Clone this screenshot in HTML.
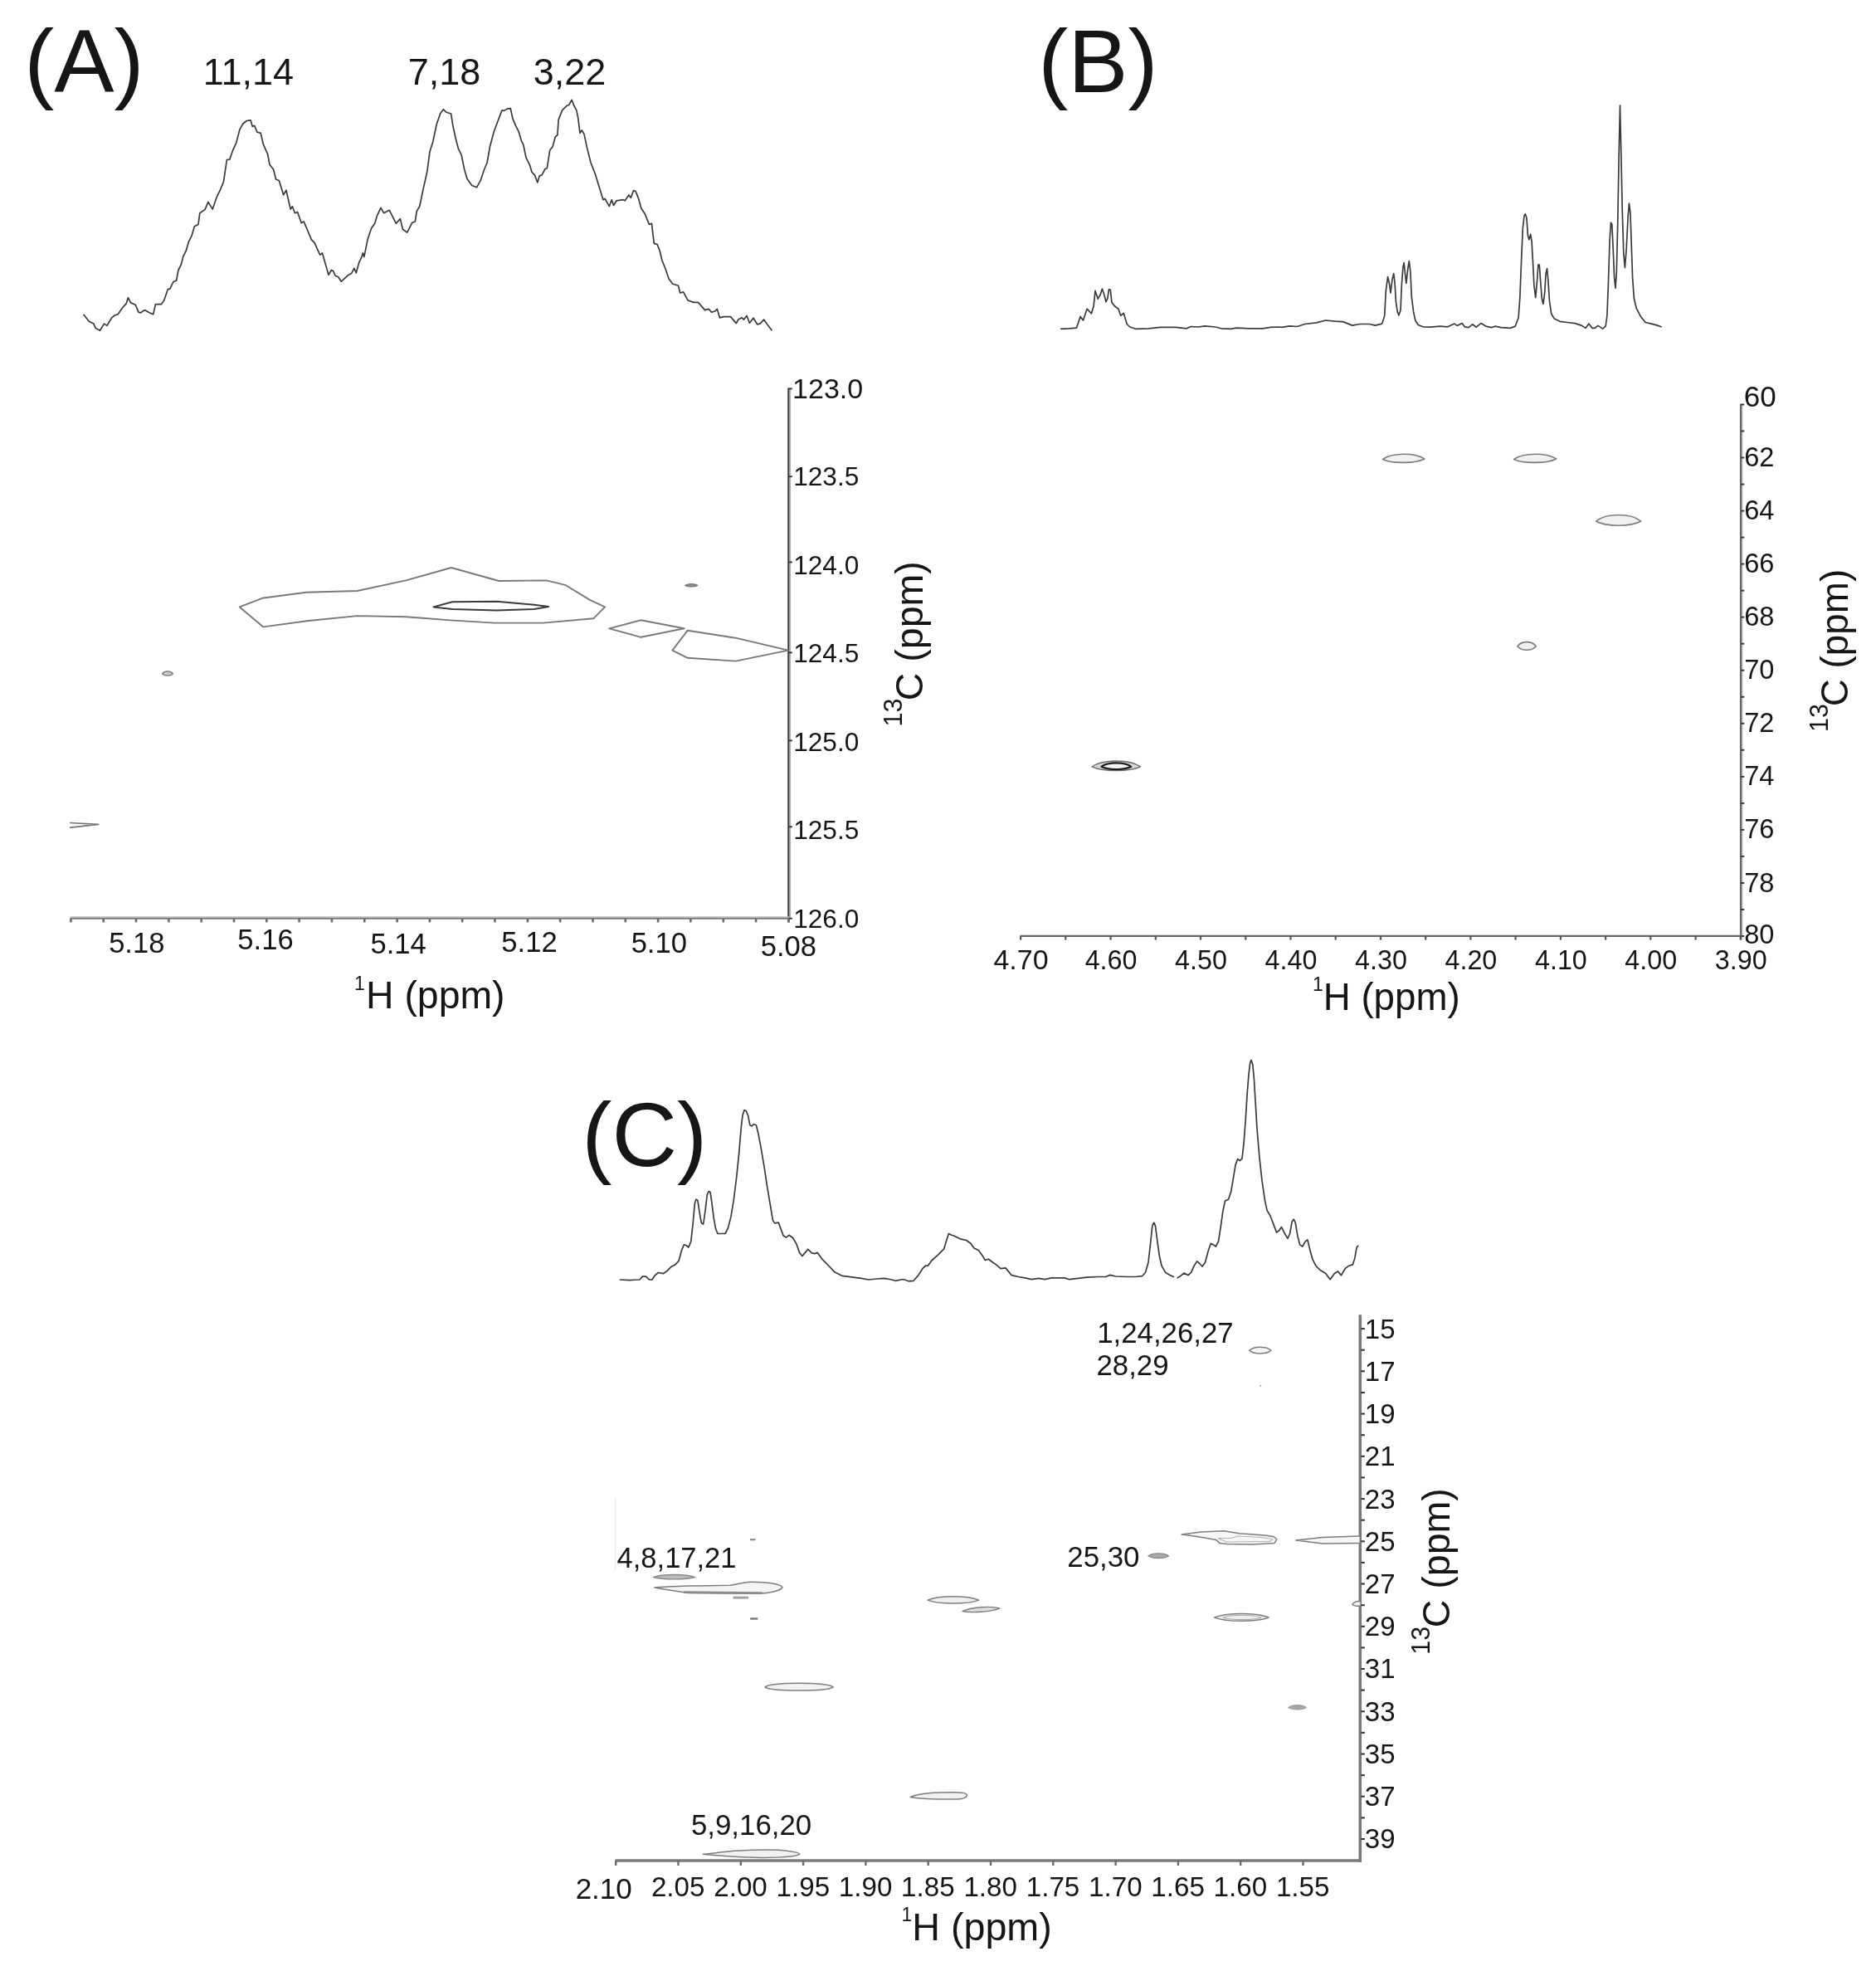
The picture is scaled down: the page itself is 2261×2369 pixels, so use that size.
<!DOCTYPE html>
<html><head><meta charset="utf-8"><title>HSQC NMR spectra</title>
<style>
html,body{margin:0;padding:0;background:#fff;}
body{width:2261px;height:2369px;overflow:hidden;}
svg{display:block;font-family:"Liberation Sans", Arial, sans-serif;filter:blur(0.55px);}
</style></head><body>
<svg width="2261" height="2369" viewBox="0 0 2261 2369">
<rect width="2261" height="2369" fill="#fff"/>
<text x="29.2" y="111.0" font-size="108.3" text-anchor="start" fill="#161616" stroke="#161616" stroke-width="0.00" >(A)</text>
<text x="1251.2" y="111.2" font-size="108.3" text-anchor="start" fill="#161616" stroke="#161616" stroke-width="0.00" >(B)</text>
<text x="701.3" y="1404.8" font-size="108.8" text-anchor="start" fill="#161616" stroke="#161616" stroke-width="0.00" >(C)</text>
<text x="299.5" y="102.0" font-size="45" text-anchor="middle" fill="#161616" stroke="#161616" stroke-width="0.00" >11,14</text>
<text x="535.5" y="102.0" font-size="45" text-anchor="middle" fill="#161616" stroke="#161616" stroke-width="0.00" >7,18</text>
<text x="686.5" y="102.0" font-size="45" text-anchor="middle" fill="#161616" stroke="#161616" stroke-width="0.00" >3,22</text>
<path d="M101.0 379.3 L107.2 387.3 L112.9 390.1 L115.2 395.4 L120.5 398.3 L125.5 390.1 L129.0 392.4 L134.7 382.8 L138.1 380.0 L142.3 378.6 L147.3 371.3 L152.3 365.6 L154.4 358.7 L157.6 364.9 L163.3 367.2 L166.8 375.9 L169.1 377.0 L174.3 373.6 L180.5 377.0 L184.7 378.6 L187.4 366.7 L194.3 366.7 L197.7 362.1 L202.3 348.4 L204.6 348.4 L209.2 339.2 L212.6 338.1 L214.9 325.5 L218.4 318.6 L220.7 309.4 L224.1 302.5 L227.5 291.1 L231.0 284.2 L234.4 272.7 L239.0 270.4 L240.8 256.7 L247.0 252.6 L250.9 243.4 L256.2 252.1 L260.8 238.4 L265.3 229.2 L269.5 218.9 L273.4 192.5 L276.8 192.1 L280.2 182.2 L284.8 171.9 L289.0 155.8 L292.9 149.0 L297.4 145.5 L302.0 144.8 L304.3 152.4 L306.6 151.3 L310.0 159.3 L314.2 160.4 L317.4 174.2 L322.6 185.6 L324.9 198.2 L329.5 204.0 L332.5 215.9 L336.4 217.7 L341.7 234.9 L344.9 229.2 L350.2 252.1 L352.4 248.7 L355.4 256.7 L358.6 255.5 L363.2 268.6 L366.2 267.0 L375.4 288.8 L378.8 292.2 L385.7 307.1 L388.4 304.8 L396.0 331.2 L399.4 325.5 L401.7 326.6 L404.0 332.3 L407.5 333.5 L411.4 339.2 L420.1 331.2 L423.5 329.6 L426.9 323.2 L429.2 328.9 L432.7 316.3 L436.1 309.4 L437.3 304.8 L438.9 309.4 L443.0 288.8 L447.6 275.0 L451.7 269.3 L454.4 260.1 L459.0 250.3 L462.5 256.7 L469.3 253.3 L477.4 269.3 L482.4 263.6 L485.4 276.2 L490.7 280.1 L496.8 268.2 L500.3 267.0 L502.3 254.4 L505.7 248.7 L510.3 226.9 L514.9 206.3 L517.9 183.3 L521.8 170.7 L526.4 149.0 L530.9 136.4 L534.4 131.8 L537.8 135.2 L543.6 137.0 L545.8 151.3 L549.3 167.3 L552.3 178.8 L556.2 186.8 L559.6 204.0 L563.0 215.4 L568.8 223.5 L574.5 225.8 L579.1 217.7 L583.7 204.0 L587.1 196.0 L590.5 176.5 L595.1 159.3 L599.7 146.7 L605.0 132.9 L607.7 133.4 L611.2 131.1 L615.3 130.6 L618.0 143.2 L621.5 151.3 L624.9 158.1 L628.4 169.6 L630.7 174.2 L634.1 190.2 L638.7 199.4 L641.0 207.4 L644.4 210.9 L647.8 220.0 L650.1 212.0 L653.1 210.9 L657.0 203.5 L659.3 202.8 L662.7 181.1 L666.2 176.5 L669.2 165.0 L671.9 162.7 L673.1 144.4 L677.6 132.9 L683.4 127.2 L685.7 126.5 L689.1 120.3 L691.4 126.5 L694.8 132.9 L696.7 142.1 L699.0 160.4 L701.2 157.0 L704.0 161.6 L707.4 177.6 L712.0 196.0 L717.8 210.9 L722.3 225.8 L726.9 240.7 L729.2 239.5 L734.3 248.7 L737.2 240.7 L739.5 247.5 L743.0 241.8 L751.0 240.7 L753.3 241.8 L757.9 234.9 L760.2 238.4 L763.6 229.6 L765.9 230.3 L769.3 238.4 L772.8 251.0 L777.3 257.8 L782.4 270.4 L785.4 269.3 L788.3 293.4 L792.2 294.5 L795.2 302.5 L798.0 314.0 L802.6 325.5 L806.0 335.8 L810.6 342.0 L817.5 344.3 L819.7 353.0 L823.6 351.8 L828.9 361.7 L835.8 364.4 L841.5 364.4 L849.5 373.6 L854.1 372.4 L857.6 376.3 L862.2 374.7 L864.4 372.4 L867.4 382.8 L872.5 381.6 L880.5 381.6 L887.4 389.6 L889.7 385.1 L894.2 382.8 L896.5 385.1 L900.0 380.5 L903.4 389.2 L908.0 383.2 L912.6 390.8 L916.0 390.1 L920.6 385.1 L925.2 391.5 L930.0 397.7" fill="none" stroke="#3a3a3a" stroke-width="1.7" stroke-linejoin="round" stroke-linecap="round"/>
<path d="M1278.7 396.3 L1288.3 395.8 L1297.5 395.1 L1302.1 381.4 L1305.5 386.0 L1310.1 372.2 L1315.4 377.9 L1318.1 368.8 L1320.0 350.4 L1323.2 360.1 L1326.2 355.0 L1328.4 348.1 L1330.7 355.0 L1333.0 363.7 L1334.9 359.6 L1336.5 348.6 L1338.3 349.3 L1339.9 364.2 L1343.3 368.8 L1347.9 372.2 L1350.7 380.2 L1354.3 377.5 L1358.2 390.5 L1361.7 394.0 L1368.6 396.3 L1384.6 395.8 L1398.4 394.4 L1416.7 394.4 L1430.4 395.8 L1435.0 393.5 L1444.2 394.0 L1452.2 392.8 L1464.8 394.0 L1471.7 395.8 L1483.2 396.3 L1490.0 395.1 L1506.1 395.8 L1522.1 395.8 L1531.3 394.4 L1540.5 394.0 L1545.1 394.4 L1554.2 392.8 L1563.4 393.5 L1572.6 390.5 L1586.3 388.9 L1597.8 386.0 L1609.2 387.1 L1618.4 387.6 L1629.9 392.1 L1639.0 390.5 L1650.5 390.5 L1657.4 392.1 L1665.7 390.1 L1668.7 380.5 L1670.3 350.7 L1672.6 333.5 L1674.4 341.5 L1676.0 353.0 L1677.9 336.9 L1679.7 329.6 L1681.1 341.5 L1682.5 364.4 L1684.3 375.9 L1685.9 380.0 L1688.0 373.6 L1689.3 343.8 L1690.9 322.0 L1692.1 316.7 L1693.5 330.0 L1694.8 341.5 L1696.7 324.3 L1698.3 314.5 L1699.9 327.8 L1701.3 357.5 L1703.6 375.9 L1705.8 386.2 L1709.3 391.5 L1715.0 393.8 L1724.2 394.2 L1735.6 393.1 L1744.8 393.8 L1752.8 390.1 L1756.3 392.4 L1762.0 389.6 L1765.4 393.8 L1770.0 394.7 L1774.6 390.8 L1779.2 394.2 L1784.9 389.6 L1790.7 393.1 L1797.5 394.7 L1802.1 393.1 L1809.0 394.7 L1820.4 395.4 L1826.2 393.1 L1830.1 382.8 L1831.9 357.5 L1833.5 316.3 L1835.3 275.0 L1837.0 260.1 L1838.3 257.8 L1839.9 262.4 L1841.5 284.2 L1842.9 288.8 L1844.7 282.4 L1846.1 291.1 L1847.5 316.3 L1848.9 343.8 L1850.7 358.7 L1852.5 339.2 L1853.9 319.0 L1855.3 319.0 L1856.7 339.2 L1858.3 359.8 L1859.9 366.3 L1861.7 353.0 L1863.1 330.0 L1864.5 323.6 L1865.8 336.9 L1867.4 362.1 L1869.7 378.2 L1873.2 383.9 L1880.0 387.3 L1889.2 388.5 L1898.4 389.6 L1906.4 392.4 L1911.0 395.4 L1914.9 390.1 L1919.0 395.4 L1922.4 395.4 L1925.9 392.4 L1931.6 396.1 L1935.1 393.1 L1936.9 380.5 L1938.5 339.2 L1940.1 288.8 L1941.5 268.2 L1942.8 270.4 L1944.2 300.2 L1945.6 334.6 L1947.0 347.2 L1948.3 327.8 L1949.7 270.4 L1951.1 190.2 L1952.5 127.2 L1953.8 185.6 L1955.2 252.1 L1956.8 304.8 L1958.4 322.7 L1960.3 298.0 L1962.1 261.3 L1963.5 245.2 L1964.9 256.7 L1966.2 293.4 L1967.6 334.6 L1969.4 359.8 L1972.2 371.3 L1977.5 381.6 L1983.2 388.5 L1990.1 390.1 L1996.9 391.9 L2002.0 393.8" fill="none" stroke="#3a3a3a" stroke-width="1.7" stroke-linejoin="round" stroke-linecap="round"/>
<path d="M747.3 1542.0 L758.3 1542.6 L770.9 1542.0 L774.4 1538.1 L778.5 1538.1 L782.4 1542.0 L785.8 1542.0 L789.3 1536.9 L793.2 1533.5 L799.6 1534.6 L804.2 1531.2 L808.8 1526.6 L813.3 1524.3 L817.9 1519.7 L821.4 1507.1 L824.3 1499.8 L827.1 1500.7 L829.9 1503.0 L832.8 1495.7 L835.1 1475.0 L837.4 1449.8 L839.0 1445.2 L840.9 1446.4 L843.1 1461.3 L845.4 1473.9 L847.7 1475.0 L850.0 1459.0 L852.3 1439.5 L854.1 1435.6 L856.0 1436.5 L858.0 1449.8 L860.3 1468.2 L862.6 1480.8 L864.9 1486.5 L869.5 1486.5 L874.1 1486.5 L877.5 1479.6 L881.0 1465.9 L884.4 1445.2 L887.8 1417.7 L890.8 1387.9 L893.1 1360.4 L894.9 1344.4 L897.0 1337.5 L899.3 1338.7 L901.6 1344.4 L903.9 1355.8 L906.2 1357.0 L908.5 1354.7 L911.4 1355.8 L914.2 1367.3 L917.6 1385.6 L921.1 1406.3 L924.5 1429.2 L928.0 1449.8 L931.4 1470.4 L933.7 1473.9 L938.3 1473.2 L940.6 1479.6 L944.0 1488.8 L947.4 1491.1 L950.9 1488.3 L955.5 1491.5 L960.0 1499.1 L963.5 1509.4 L966.9 1513.5 L970.4 1509.4 L973.8 1505.3 L978.4 1509.9 L981.8 1510.6 L985.3 1509.4 L991.0 1517.4 L999.0 1525.5 L1005.9 1532.8 L1015.1 1537.4 L1026.5 1538.8 L1038.0 1540.4 L1047.1 1542.0 L1056.3 1541.0 L1065.5 1540.4 L1072.4 1541.5 L1079.2 1543.3 L1088.4 1541.5 L1095.3 1543.8 L1101.0 1543.3 L1106.7 1536.9 L1112.5 1527.8 L1115.9 1525.0 L1118.2 1525.5 L1122.8 1519.0 L1129.7 1512.9 L1137.7 1504.8 L1141.1 1493.4 L1143.4 1486.5 L1146.8 1488.3 L1150.0 1489.2 L1158.0 1493.2 L1164.7 1494.5 L1170.0 1498.5 L1174.0 1503.9 L1179.3 1506.5 L1183.3 1511.9 L1187.3 1518.5 L1191.3 1517.2 L1196.6 1521.2 L1200.6 1523.9 L1206.0 1528.7 L1211.8 1527.9 L1215.3 1531.9 L1219.3 1536.7 L1227.3 1538.5 L1235.3 1539.9 L1243.3 1541.7 L1251.3 1540.4 L1259.3 1541.7 L1267.3 1539.9 L1277.9 1539.9 L1283.3 1539.9 L1288.6 1541.7 L1299.3 1540.4 L1309.9 1539.1 L1323.2 1538.5 L1332.6 1538.5 L1337.9 1536.4 L1344.6 1538.0 L1357.9 1538.5 L1368.6 1538.5 L1376.5 1537.7 L1380.5 1533.2 L1384.0 1521.2 L1386.7 1497.2 L1388.8 1477.2 L1390.7 1473.2 L1392.5 1477.2 L1394.7 1494.5 L1397.3 1513.2 L1400.0 1525.2 L1404.5 1533.2 L1409.9 1536.4 L1414.4 1538.5" fill="none" stroke="#3a3a3a" stroke-width="1.7" stroke-linejoin="round" stroke-linecap="round"/>
<path d="M1419.2 1539.9 L1423.2 1537.2 L1427.2 1534.0 L1432.0 1536.7 L1435.7 1533.2 L1439.2 1525.2 L1442.6 1519.9 L1445.8 1522.5 L1449.0 1526.0 L1452.5 1521.2 L1456.0 1507.9 L1459.2 1498.5 L1462.4 1499.9 L1465.3 1502.0 L1468.5 1495.9 L1471.2 1478.6 L1473.8 1459.9 L1476.5 1447.1 L1480.5 1445.2 L1483.7 1435.9 L1486.4 1419.9 L1489.0 1403.9 L1491.7 1396.5 L1494.3 1398.6 L1497.0 1395.9 L1499.1 1377.3 L1501.3 1348.0 L1503.1 1318.6 L1505.0 1294.6 L1506.6 1281.3 L1507.9 1277.3 L1509.8 1282.7 L1511.4 1300.0 L1513.0 1326.6 L1515.1 1361.3 L1517.8 1393.3 L1521.0 1422.6 L1524.5 1446.6 L1527.1 1458.6 L1531.1 1465.2 L1535.1 1475.9 L1538.6 1485.2 L1541.8 1482.5 L1544.5 1478.6 L1547.7 1485.2 L1551.9 1492.4 L1554.6 1486.5 L1557.2 1471.9 L1559.1 1469.2 L1561.2 1473.2 L1563.9 1489.2 L1566.6 1499.9 L1569.8 1502.0 L1573.2 1495.9 L1575.9 1494.0 L1578.6 1505.2 L1581.8 1517.2 L1585.8 1525.2 L1591.1 1530.5 L1597.8 1534.5 L1603.1 1541.7 L1608.4 1534.5 L1612.4 1531.9 L1616.4 1536.7 L1621.2 1528.7 L1625.7 1525.2 L1630.3 1523.9 L1632.9 1515.9 L1635.1 1503.1 L1636.7 1501.2" fill="none" stroke="#3a3a3a" stroke-width="1.7" stroke-linejoin="round" stroke-linecap="round"/>
<line x1="950.4" y1="467.4" x2="950.4" y2="1111.5" stroke="#3a3a3a" stroke-width="2.3"/>
<line x1="952.3" y1="467.4" x2="952.3" y2="1108.0" stroke="#b0b0b0" stroke-width="1.6"/>
<line x1="84.5" y1="1105.0" x2="951.5" y2="1105.0" stroke="#bcbcbc" stroke-width="1.6"/>
<line x1="84.5" y1="1106.8" x2="951.5" y2="1106.8" stroke="#7a7a7a" stroke-width="2.0"/>
<line x1="951.0" y1="468.4" x2="954.8" y2="468.4" stroke="#333" stroke-width="1.9"/>
<text x="955.1" y="480.3" font-size="34" text-anchor="start" fill="#161616" stroke="#161616" stroke-width="0.00" >123.0</text>
<line x1="951.0" y1="574.2" x2="954.8" y2="574.2" stroke="#333" stroke-width="1.9"/>
<text x="956.2" y="585.1" font-size="31.6" text-anchor="start" fill="#161616" stroke="#161616" stroke-width="0.00" >123.5</text>
<line x1="951.0" y1="677.4" x2="954.8" y2="677.4" stroke="#333" stroke-width="1.9"/>
<text x="956.2" y="691.6" font-size="31.6" text-anchor="start" fill="#161616" stroke="#161616" stroke-width="0.00" >124.0</text>
<line x1="951.0" y1="786.4" x2="954.8" y2="786.4" stroke="#333" stroke-width="1.9"/>
<text x="956.2" y="798.1" font-size="31.6" text-anchor="start" fill="#161616" stroke="#161616" stroke-width="0.00" >124.5</text>
<line x1="951.0" y1="892.4" x2="954.8" y2="892.4" stroke="#333" stroke-width="1.9"/>
<text x="956.2" y="904.6" font-size="31.6" text-anchor="start" fill="#161616" stroke="#161616" stroke-width="0.00" >125.0</text>
<line x1="951.0" y1="996.3" x2="954.8" y2="996.3" stroke="#333" stroke-width="1.9"/>
<text x="956.2" y="1011.1" font-size="31.6" text-anchor="start" fill="#161616" stroke="#161616" stroke-width="0.00" >125.5</text>
<line x1="951.0" y1="1106.7" x2="954.8" y2="1106.7" stroke="#333" stroke-width="1.9"/>
<text x="956.2" y="1117.6" font-size="31.6" text-anchor="start" fill="#161616" stroke="#161616" stroke-width="0.00" >126.0</text>
<line x1="85.4" y1="1107.0" x2="85.4" y2="1111.4" stroke="#6a6a6a" stroke-width="2.6"/>
<line x1="124.7" y1="1107.0" x2="124.7" y2="1111.4" stroke="#6a6a6a" stroke-width="2.6"/>
<line x1="164.0" y1="1107.0" x2="164.0" y2="1111.4" stroke="#6a6a6a" stroke-width="2.6"/>
<line x1="203.4" y1="1107.0" x2="203.4" y2="1111.4" stroke="#6a6a6a" stroke-width="2.6"/>
<line x1="242.7" y1="1107.0" x2="242.7" y2="1111.4" stroke="#6a6a6a" stroke-width="2.6"/>
<line x1="282.0" y1="1107.0" x2="282.0" y2="1111.4" stroke="#6a6a6a" stroke-width="2.6"/>
<line x1="321.3" y1="1107.0" x2="321.3" y2="1111.4" stroke="#6a6a6a" stroke-width="2.6"/>
<line x1="360.6" y1="1107.0" x2="360.6" y2="1111.4" stroke="#6a6a6a" stroke-width="2.6"/>
<line x1="399.9" y1="1107.0" x2="399.9" y2="1111.4" stroke="#6a6a6a" stroke-width="2.6"/>
<line x1="439.3" y1="1107.0" x2="439.3" y2="1111.4" stroke="#6a6a6a" stroke-width="2.6"/>
<line x1="478.6" y1="1107.0" x2="478.6" y2="1111.4" stroke="#6a6a6a" stroke-width="2.6"/>
<line x1="517.9" y1="1107.0" x2="517.9" y2="1111.4" stroke="#6a6a6a" stroke-width="2.6"/>
<line x1="557.2" y1="1107.0" x2="557.2" y2="1111.4" stroke="#6a6a6a" stroke-width="2.6"/>
<line x1="596.5" y1="1107.0" x2="596.5" y2="1111.4" stroke="#6a6a6a" stroke-width="2.6"/>
<line x1="635.9" y1="1107.0" x2="635.9" y2="1111.4" stroke="#6a6a6a" stroke-width="2.6"/>
<line x1="675.2" y1="1107.0" x2="675.2" y2="1111.4" stroke="#6a6a6a" stroke-width="2.6"/>
<line x1="714.5" y1="1107.0" x2="714.5" y2="1111.4" stroke="#6a6a6a" stroke-width="2.6"/>
<line x1="753.8" y1="1107.0" x2="753.8" y2="1111.4" stroke="#6a6a6a" stroke-width="2.6"/>
<line x1="793.1" y1="1107.0" x2="793.1" y2="1111.4" stroke="#6a6a6a" stroke-width="2.6"/>
<line x1="832.4" y1="1107.0" x2="832.4" y2="1111.4" stroke="#6a6a6a" stroke-width="2.6"/>
<line x1="871.8" y1="1107.0" x2="871.8" y2="1111.4" stroke="#6a6a6a" stroke-width="2.6"/>
<line x1="911.1" y1="1107.0" x2="911.1" y2="1111.4" stroke="#6a6a6a" stroke-width="2.6"/>
<line x1="950.4" y1="1107.0" x2="950.4" y2="1111.4" stroke="#6a6a6a" stroke-width="2.6"/>
<text x="164.8" y="1147.7" font-size="34.6" text-anchor="middle" fill="#161616" stroke="#161616" stroke-width="0.00" >5.18</text>
<text x="320.0" y="1143.6" font-size="34.6" text-anchor="middle" fill="#161616" stroke="#161616" stroke-width="0.00" >5.16</text>
<text x="480.2" y="1149.3" font-size="34.6" text-anchor="middle" fill="#161616" stroke="#161616" stroke-width="0.00" >5.14</text>
<text x="638.0" y="1147.0" font-size="34.6" text-anchor="middle" fill="#161616" stroke="#161616" stroke-width="0.00" >5.12</text>
<text x="794.3" y="1147.7" font-size="34.6" text-anchor="middle" fill="#161616" stroke="#161616" stroke-width="0.00" >5.10</text>
<text x="950.4" y="1151.8" font-size="34.6" text-anchor="middle" fill="#161616" stroke="#161616" stroke-width="0.00" >5.08</text>
<text x="441.0" y="1215.3" font-size="46.4" text-anchor="start" fill="#161616" stroke="#161616" stroke-width="0.00" >H (ppm)</text>
<text x="427.1" y="1192.5" font-size="23" text-anchor="start" fill="#161616" stroke="#161616" stroke-width="0.00" >1</text>
<g transform="translate(1111.5,844.2) rotate(-90)">
<text x="0.0" y="0.0" font-size="46.5" text-anchor="start" fill="#161616" stroke="#161616" stroke-width="0.00" >C (ppm)</text>
</g>
<g transform="translate(1087.4,875.5) rotate(-90)">
<text x="0.0" y="0.0" font-size="30.5" text-anchor="start" fill="#161616" stroke="#161616" stroke-width="0.00" >13</text>
</g>
<line x1="2098.1" y1="486.5" x2="2098.1" y2="1132.5" stroke="#646464" stroke-width="2.4"/>
<line x1="2099.8" y1="486.5" x2="2099.8" y2="1128.0" stroke="#b4b4b4" stroke-width="1.2"/>
<line x1="1229.5" y1="1127.9" x2="2099.0" y2="1127.9" stroke="#666" stroke-width="2.1"/>
<line x1="2098.5" y1="487.5" x2="2102.2" y2="487.5" stroke="#333" stroke-width="1.9"/>
<text x="2101.8" y="489.6" font-size="35" text-anchor="start" fill="#161616" stroke="#161616" stroke-width="0.00" >60</text>
<line x1="2098.5" y1="519.5" x2="2102.2" y2="519.5" stroke="#333" stroke-width="1.9"/>
<line x1="2098.5" y1="551.5" x2="2102.2" y2="551.5" stroke="#333" stroke-width="1.9"/>
<text x="2102.2" y="562.0" font-size="32.6" text-anchor="start" fill="#161616" stroke="#161616" stroke-width="0.00" >62</text>
<line x1="2098.5" y1="583.6" x2="2102.2" y2="583.6" stroke="#333" stroke-width="1.9"/>
<line x1="2098.5" y1="615.6" x2="2102.2" y2="615.6" stroke="#333" stroke-width="1.9"/>
<text x="2102.2" y="626.1" font-size="32.6" text-anchor="start" fill="#161616" stroke="#161616" stroke-width="0.00" >64</text>
<line x1="2098.5" y1="647.6" x2="2102.2" y2="647.6" stroke="#333" stroke-width="1.9"/>
<line x1="2098.5" y1="679.6" x2="2102.2" y2="679.6" stroke="#333" stroke-width="1.9"/>
<text x="2102.2" y="690.1" font-size="32.6" text-anchor="start" fill="#161616" stroke="#161616" stroke-width="0.00" >66</text>
<line x1="2098.5" y1="711.7" x2="2102.2" y2="711.7" stroke="#333" stroke-width="1.9"/>
<line x1="2098.5" y1="743.7" x2="2102.2" y2="743.7" stroke="#333" stroke-width="1.9"/>
<text x="2102.2" y="754.2" font-size="32.6" text-anchor="start" fill="#161616" stroke="#161616" stroke-width="0.00" >68</text>
<line x1="2098.5" y1="775.7" x2="2102.2" y2="775.7" stroke="#333" stroke-width="1.9"/>
<line x1="2098.5" y1="807.8" x2="2102.2" y2="807.8" stroke="#333" stroke-width="1.9"/>
<text x="2102.2" y="818.2" font-size="32.6" text-anchor="start" fill="#161616" stroke="#161616" stroke-width="0.00" >70</text>
<line x1="2098.5" y1="839.8" x2="2102.2" y2="839.8" stroke="#333" stroke-width="1.9"/>
<line x1="2098.5" y1="871.8" x2="2102.2" y2="871.8" stroke="#333" stroke-width="1.9"/>
<text x="2102.2" y="882.3" font-size="32.6" text-anchor="start" fill="#161616" stroke="#161616" stroke-width="0.00" >72</text>
<line x1="2098.5" y1="903.8" x2="2102.2" y2="903.8" stroke="#333" stroke-width="1.9"/>
<line x1="2098.5" y1="935.9" x2="2102.2" y2="935.9" stroke="#333" stroke-width="1.9"/>
<text x="2102.2" y="946.4" font-size="32.6" text-anchor="start" fill="#161616" stroke="#161616" stroke-width="0.00" >74</text>
<line x1="2098.5" y1="967.9" x2="2102.2" y2="967.9" stroke="#333" stroke-width="1.9"/>
<line x1="2098.5" y1="999.9" x2="2102.2" y2="999.9" stroke="#333" stroke-width="1.9"/>
<text x="2102.2" y="1010.4" font-size="32.6" text-anchor="start" fill="#161616" stroke="#161616" stroke-width="0.00" >76</text>
<line x1="2098.5" y1="1031.9" x2="2102.2" y2="1031.9" stroke="#333" stroke-width="1.9"/>
<line x1="2098.5" y1="1064.0" x2="2102.2" y2="1064.0" stroke="#333" stroke-width="1.9"/>
<text x="2102.2" y="1074.5" font-size="32.6" text-anchor="start" fill="#161616" stroke="#161616" stroke-width="0.00" >78</text>
<line x1="2098.5" y1="1096.0" x2="2102.2" y2="1096.0" stroke="#333" stroke-width="1.9"/>
<line x1="2098.5" y1="1128.0" x2="2102.2" y2="1128.0" stroke="#333" stroke-width="1.9"/>
<text x="2102.2" y="1137.3" font-size="32.6" text-anchor="start" fill="#161616" stroke="#161616" stroke-width="0.00" >80</text>
<line x1="1230.1" y1="1128.0" x2="1230.1" y2="1132.6" stroke="#555" stroke-width="2.2"/>
<text x="1230.5" y="1167.6" font-size="34" text-anchor="middle" fill="#161616" stroke="#161616" stroke-width="0.00" >4.70</text>
<line x1="1284.3" y1="1128.0" x2="1284.3" y2="1132.6" stroke="#555" stroke-width="2.2"/>
<line x1="1338.6" y1="1128.0" x2="1338.6" y2="1132.6" stroke="#555" stroke-width="2.2"/>
<text x="1339.1" y="1167.8" font-size="32.3" text-anchor="middle" fill="#161616" stroke="#161616" stroke-width="0.00" >4.60</text>
<line x1="1392.8" y1="1128.0" x2="1392.8" y2="1132.6" stroke="#555" stroke-width="2.2"/>
<line x1="1447.0" y1="1128.0" x2="1447.0" y2="1132.6" stroke="#555" stroke-width="2.2"/>
<text x="1447.5" y="1167.8" font-size="32.3" text-anchor="middle" fill="#161616" stroke="#161616" stroke-width="0.00" >4.50</text>
<line x1="1501.3" y1="1128.0" x2="1501.3" y2="1132.6" stroke="#555" stroke-width="2.2"/>
<line x1="1555.5" y1="1128.0" x2="1555.5" y2="1132.6" stroke="#555" stroke-width="2.2"/>
<text x="1556.0" y="1167.8" font-size="32.3" text-anchor="middle" fill="#161616" stroke="#161616" stroke-width="0.00" >4.40</text>
<line x1="1609.7" y1="1128.0" x2="1609.7" y2="1132.6" stroke="#555" stroke-width="2.2"/>
<line x1="1664.0" y1="1128.0" x2="1664.0" y2="1132.6" stroke="#555" stroke-width="2.2"/>
<text x="1664.5" y="1167.8" font-size="32.3" text-anchor="middle" fill="#161616" stroke="#161616" stroke-width="0.00" >4.30</text>
<line x1="1718.2" y1="1128.0" x2="1718.2" y2="1132.6" stroke="#555" stroke-width="2.2"/>
<line x1="1772.4" y1="1128.0" x2="1772.4" y2="1132.6" stroke="#555" stroke-width="2.2"/>
<text x="1772.9" y="1167.8" font-size="32.3" text-anchor="middle" fill="#161616" stroke="#161616" stroke-width="0.00" >4.20</text>
<line x1="1826.6" y1="1128.0" x2="1826.6" y2="1132.6" stroke="#555" stroke-width="2.2"/>
<line x1="1880.9" y1="1128.0" x2="1880.9" y2="1132.6" stroke="#555" stroke-width="2.2"/>
<text x="1881.4" y="1167.8" font-size="32.3" text-anchor="middle" fill="#161616" stroke="#161616" stroke-width="0.00" >4.10</text>
<line x1="1935.1" y1="1128.0" x2="1935.1" y2="1132.6" stroke="#555" stroke-width="2.2"/>
<line x1="1989.3" y1="1128.0" x2="1989.3" y2="1132.6" stroke="#555" stroke-width="2.2"/>
<text x="1989.8" y="1167.8" font-size="32.3" text-anchor="middle" fill="#161616" stroke="#161616" stroke-width="0.00" >4.00</text>
<line x1="2043.6" y1="1128.0" x2="2043.6" y2="1132.6" stroke="#555" stroke-width="2.2"/>
<line x1="2097.8" y1="1128.0" x2="2097.8" y2="1132.6" stroke="#555" stroke-width="2.2"/>
<text x="2098.3" y="1167.8" font-size="32.3" text-anchor="middle" fill="#161616" stroke="#161616" stroke-width="0.00" >3.90</text>
<text x="1594.7" y="1217.0" font-size="45.7" text-anchor="start" fill="#161616" stroke="#161616" stroke-width="0.00" >H (ppm)</text>
<text x="1581.9" y="1194.3" font-size="23" text-anchor="start" fill="#161616" stroke="#161616" stroke-width="0.00" >1</text>
<g transform="translate(2227.3,851.2) rotate(-90)">
<text x="0.0" y="0.0" font-size="45.8" text-anchor="start" fill="#161616" stroke="#161616" stroke-width="0.00" >C (ppm)</text>
</g>
<g transform="translate(2203.3,882.0) rotate(-90)">
<text x="0.0" y="0.0" font-size="30.5" text-anchor="start" fill="#161616" stroke="#161616" stroke-width="0.00" >13</text>
</g>
<line x1="1639.3" y1="1584.3" x2="1639.3" y2="2243.8" stroke="#787878" stroke-width="3.5"/>
<line x1="741.5" y1="2242.0" x2="1641.0" y2="2242.0" stroke="#7a7a7a" stroke-width="3.6"/>
<line x1="1640.5" y1="1601.1" x2="1644.8" y2="1601.1" stroke="#2e2e2e" stroke-width="2.0"/>
<text x="1644.8" y="1612.5" font-size="33" text-anchor="start" fill="#161616" stroke="#161616" stroke-width="0.00" >15</text>
<line x1="1640.5" y1="1626.7" x2="1644.8" y2="1626.7" stroke="#2e2e2e" stroke-width="2.0"/>
<line x1="1640.5" y1="1652.3" x2="1644.8" y2="1652.3" stroke="#2e2e2e" stroke-width="2.0"/>
<text x="1644.8" y="1663.7" font-size="33" text-anchor="start" fill="#161616" stroke="#161616" stroke-width="0.00" >17</text>
<line x1="1640.5" y1="1678.0" x2="1644.8" y2="1678.0" stroke="#2e2e2e" stroke-width="2.0"/>
<line x1="1640.5" y1="1703.6" x2="1644.8" y2="1703.6" stroke="#2e2e2e" stroke-width="2.0"/>
<text x="1644.8" y="1715.0" font-size="33" text-anchor="start" fill="#161616" stroke="#161616" stroke-width="0.00" >19</text>
<line x1="1640.5" y1="1729.2" x2="1644.8" y2="1729.2" stroke="#2e2e2e" stroke-width="2.0"/>
<line x1="1640.5" y1="1754.8" x2="1644.8" y2="1754.8" stroke="#2e2e2e" stroke-width="2.0"/>
<text x="1644.8" y="1766.2" font-size="33" text-anchor="start" fill="#161616" stroke="#161616" stroke-width="0.00" >21</text>
<line x1="1640.5" y1="1780.4" x2="1644.8" y2="1780.4" stroke="#2e2e2e" stroke-width="2.0"/>
<line x1="1640.5" y1="1806.1" x2="1644.8" y2="1806.1" stroke="#2e2e2e" stroke-width="2.0"/>
<text x="1644.8" y="1817.5" font-size="33" text-anchor="start" fill="#161616" stroke="#161616" stroke-width="0.00" >23</text>
<line x1="1640.5" y1="1831.7" x2="1644.8" y2="1831.7" stroke="#2e2e2e" stroke-width="2.0"/>
<line x1="1640.5" y1="1857.3" x2="1644.8" y2="1857.3" stroke="#2e2e2e" stroke-width="2.0"/>
<text x="1644.8" y="1868.7" font-size="33" text-anchor="start" fill="#161616" stroke="#161616" stroke-width="0.00" >25</text>
<line x1="1640.5" y1="1882.9" x2="1644.8" y2="1882.9" stroke="#2e2e2e" stroke-width="2.0"/>
<line x1="1640.5" y1="1908.5" x2="1644.8" y2="1908.5" stroke="#2e2e2e" stroke-width="2.0"/>
<text x="1644.8" y="1919.9" font-size="33" text-anchor="start" fill="#161616" stroke="#161616" stroke-width="0.00" >27</text>
<line x1="1640.5" y1="1934.2" x2="1644.8" y2="1934.2" stroke="#2e2e2e" stroke-width="2.0"/>
<line x1="1640.5" y1="1959.8" x2="1644.8" y2="1959.8" stroke="#2e2e2e" stroke-width="2.0"/>
<text x="1644.8" y="1971.2" font-size="33" text-anchor="start" fill="#161616" stroke="#161616" stroke-width="0.00" >29</text>
<line x1="1640.5" y1="1985.4" x2="1644.8" y2="1985.4" stroke="#2e2e2e" stroke-width="2.0"/>
<line x1="1640.5" y1="2011.0" x2="1644.8" y2="2011.0" stroke="#2e2e2e" stroke-width="2.0"/>
<text x="1644.8" y="2022.4" font-size="33" text-anchor="start" fill="#161616" stroke="#161616" stroke-width="0.00" >31</text>
<line x1="1640.5" y1="2036.6" x2="1644.8" y2="2036.6" stroke="#2e2e2e" stroke-width="2.0"/>
<line x1="1640.5" y1="2062.3" x2="1644.8" y2="2062.3" stroke="#2e2e2e" stroke-width="2.0"/>
<text x="1644.8" y="2073.7" font-size="33" text-anchor="start" fill="#161616" stroke="#161616" stroke-width="0.00" >33</text>
<line x1="1640.5" y1="2087.9" x2="1644.8" y2="2087.9" stroke="#2e2e2e" stroke-width="2.0"/>
<line x1="1640.5" y1="2113.5" x2="1644.8" y2="2113.5" stroke="#2e2e2e" stroke-width="2.0"/>
<text x="1644.8" y="2124.9" font-size="33" text-anchor="start" fill="#161616" stroke="#161616" stroke-width="0.00" >35</text>
<line x1="1640.5" y1="2139.1" x2="1644.8" y2="2139.1" stroke="#2e2e2e" stroke-width="2.0"/>
<line x1="1640.5" y1="2164.7" x2="1644.8" y2="2164.7" stroke="#2e2e2e" stroke-width="2.0"/>
<text x="1644.8" y="2176.1" font-size="33" text-anchor="start" fill="#161616" stroke="#161616" stroke-width="0.00" >37</text>
<line x1="1640.5" y1="2190.4" x2="1644.8" y2="2190.4" stroke="#2e2e2e" stroke-width="2.0"/>
<line x1="1640.5" y1="2216.0" x2="1644.8" y2="2216.0" stroke="#2e2e2e" stroke-width="2.0"/>
<text x="1644.8" y="2227.4" font-size="33" text-anchor="start" fill="#161616" stroke="#161616" stroke-width="0.00" >39</text>
<line x1="742.2" y1="2242.0" x2="742.2" y2="2248.0" stroke="#6a6a6a" stroke-width="2.4"/>
<text x="727.7" y="2287.8" font-size="35" text-anchor="middle" fill="#161616" stroke="#161616" stroke-width="0.00" >2.10</text>
<line x1="817.5" y1="2242.0" x2="817.5" y2="2248.0" stroke="#6a6a6a" stroke-width="2.4"/>
<text x="817.2" y="2285.2" font-size="33.2" text-anchor="middle" fill="#161616" stroke="#161616" stroke-width="0.00" >2.05</text>
<line x1="892.8" y1="2242.0" x2="892.8" y2="2248.0" stroke="#6a6a6a" stroke-width="2.4"/>
<text x="892.5" y="2285.2" font-size="33.2" text-anchor="middle" fill="#161616" stroke="#161616" stroke-width="0.00" >2.00</text>
<line x1="968.1" y1="2242.0" x2="968.1" y2="2248.0" stroke="#6a6a6a" stroke-width="2.4"/>
<text x="967.8" y="2285.2" font-size="33.2" text-anchor="middle" fill="#161616" stroke="#161616" stroke-width="0.00" >1.95</text>
<line x1="1043.4" y1="2242.0" x2="1043.4" y2="2248.0" stroke="#6a6a6a" stroke-width="2.4"/>
<text x="1043.1" y="2285.2" font-size="33.2" text-anchor="middle" fill="#161616" stroke="#161616" stroke-width="0.00" >1.90</text>
<line x1="1118.7" y1="2242.0" x2="1118.7" y2="2248.0" stroke="#6a6a6a" stroke-width="2.4"/>
<text x="1118.4" y="2285.2" font-size="33.2" text-anchor="middle" fill="#161616" stroke="#161616" stroke-width="0.00" >1.85</text>
<line x1="1194.0" y1="2242.0" x2="1194.0" y2="2248.0" stroke="#6a6a6a" stroke-width="2.4"/>
<text x="1193.7" y="2285.2" font-size="33.2" text-anchor="middle" fill="#161616" stroke="#161616" stroke-width="0.00" >1.80</text>
<line x1="1269.3" y1="2242.0" x2="1269.3" y2="2248.0" stroke="#6a6a6a" stroke-width="2.4"/>
<text x="1269.0" y="2285.2" font-size="33.2" text-anchor="middle" fill="#161616" stroke="#161616" stroke-width="0.00" >1.75</text>
<line x1="1344.6" y1="2242.0" x2="1344.6" y2="2248.0" stroke="#6a6a6a" stroke-width="2.4"/>
<text x="1344.3" y="2285.2" font-size="33.2" text-anchor="middle" fill="#161616" stroke="#161616" stroke-width="0.00" >1.70</text>
<line x1="1419.9" y1="2242.0" x2="1419.9" y2="2248.0" stroke="#6a6a6a" stroke-width="2.4"/>
<text x="1419.6" y="2285.2" font-size="33.2" text-anchor="middle" fill="#161616" stroke="#161616" stroke-width="0.00" >1.65</text>
<line x1="1495.2" y1="2242.0" x2="1495.2" y2="2248.0" stroke="#6a6a6a" stroke-width="2.4"/>
<text x="1494.9" y="2285.2" font-size="33.2" text-anchor="middle" fill="#161616" stroke="#161616" stroke-width="0.00" >1.60</text>
<line x1="1570.5" y1="2242.0" x2="1570.5" y2="2248.0" stroke="#6a6a6a" stroke-width="2.4"/>
<text x="1570.2" y="2285.2" font-size="33.2" text-anchor="middle" fill="#161616" stroke="#161616" stroke-width="0.00" >1.55</text>
<text x="1099.2" y="2338.1" font-size="46.7" text-anchor="start" fill="#161616" stroke="#161616" stroke-width="0.00" >H (ppm)</text>
<text x="1086.4" y="2315.2" font-size="23" text-anchor="start" fill="#161616" stroke="#161616" stroke-width="0.00" >1</text>
<g transform="translate(1746.9,1961.2) rotate(-90)">
<text x="0.0" y="0.0" font-size="46.5" text-anchor="start" fill="#161616" stroke="#161616" stroke-width="0.00" >C (ppm)</text>
</g>
<g transform="translate(1722.5,1993.8) rotate(-90)">
<text x="0.0" y="0.0" font-size="30.5" text-anchor="start" fill="#161616" stroke="#161616" stroke-width="0.00" >13</text>
</g>
<path d="M288.8 731.4 L316.0 720.8 L369.3 713.8 L430.6 712.0 L489.2 699.4 L543.8 684.0 L601.2 700.0 L658.5 699.4 L681.1 704.8 L710.4 722.6 L729.1 731.4 L715.2 745.3 L654.5 750.6 L595.8 750.6 L542.5 747.4 L489.2 743.2 L430.6 742.1 L371.9 748.0 L317.3 755.4 Z" fill="none" stroke="#787878" stroke-width="1.9" stroke-linejoin="round" stroke-linecap="round"/>
<path d="M522.5 731.4 L545.2 725.3 L598.5 724.8 L643.8 728.8 L661.1 730.9 L643.8 734.1 L598.5 735.4 L545.2 734.1 Z" fill="none" stroke="#3a3a3a" stroke-width="2.0" stroke-linejoin="round" stroke-linecap="round"/>
<path d="M734.3 757.3 L772.4 747.3 L824.6 757.3 L772.4 767.8 Z" fill="none" stroke="#787878" stroke-width="1.9" stroke-linejoin="round" stroke-linecap="round"/>
<path d="M810.4 783.6 L828.7 759.7 L886.6 768.7 L950.0 783.6 L886.6 796.6 L828.7 792.8 Z" fill="none" stroke="#787878" stroke-width="1.9" stroke-linejoin="round" stroke-linecap="round"/>
<path d="M826.0 705.5 C829.2 703.1 837.3 703.1 840.5 705.5 C837.3 707.1 829.2 707.1 826.0 705.5 Z" fill="#999" stroke="#777" stroke-width="1.6" stroke-linejoin="round"/>
<path d="M195.5 811.8 C198.4 807.8 205.6 807.8 208.5 811.8 C205.6 815.0 198.4 815.0 195.5 811.8 Z" fill="#ccc" stroke="#777" stroke-width="1.3" stroke-linejoin="round"/>
<path d="M84.7 991.5 L118.8 993.4 L84.7 997.1" fill="none" stroke="#777" stroke-width="1.6" stroke-linejoin="round" stroke-linecap="round"/>
<path d="M1666.5 553.5 C1677.6 545.3 1705.7 545.3 1716.8 553.0 C1705.7 558.8 1677.6 558.8 1666.5 553.5 Z" fill="#f1f1f1" stroke="#7d7d7d" stroke-width="1.6" stroke-linejoin="round"/>
<path d="M1824.6 553.5 C1835.8 545.3 1864.5 545.3 1875.7 553.0 C1864.5 558.8 1835.8 558.8 1824.6 553.5 Z" fill="#f1f1f1" stroke="#7d7d7d" stroke-width="1.6" stroke-linejoin="round"/>
<path d="M1923.6 628.0 C1935.5 617.9 1965.8 617.9 1977.7 628.0 C1965.8 634.9 1935.5 634.9 1923.6 628.0 Z" fill="#f1f1f1" stroke="#7d7d7d" stroke-width="1.6" stroke-linejoin="round"/>
<path d="M1828.9 778.7 C1833.8 771.9 1846.4 771.9 1851.3 778.7 C1846.4 784.7 1833.8 784.7 1828.9 778.7 Z" fill="#f1f1f1" stroke="#7d7d7d" stroke-width="1.6" stroke-linejoin="round"/>
<path d="M1316.1 923.9 C1328.9 914.7 1361.6 914.7 1374.4 923.9 C1361.6 930.2 1328.9 930.2 1316.1 923.9 Z" fill="#d8d8d8" stroke="#6a6a6a" stroke-width="1.4" stroke-linejoin="round"/>
<path d="M1327.4 923.8 C1335.3 917.9 1355.4 917.9 1363.3 923.8 C1355.4 928.1 1335.3 928.1 1327.4 923.8 Z" fill="#f4f4f4" stroke="#1c1c1c" stroke-width="2.2" stroke-linejoin="round"/>
<line x1="741.5" y1="1805.0" x2="741.5" y2="1892.0" stroke="#ececec" stroke-width="1.5"/>
<text x="743.6" y="1889.1" font-size="34.5" text-anchor="start" fill="#161616" stroke="#161616" stroke-width="0.00" >4,8,17,21</text>
<text x="1322.2" y="1618.4" font-size="34.8" text-anchor="start" fill="#161616" stroke="#161616" stroke-width="0.00" >1,24,26,27</text>
<text x="1321.5" y="1656.8" font-size="34.8" text-anchor="start" fill="#161616" stroke="#161616" stroke-width="0.00" >28,29</text>
<text x="1286.3" y="1887.6" font-size="34.8" text-anchor="start" fill="#161616" stroke="#161616" stroke-width="0.00" >25,30</text>
<text x="833.0" y="2211.0" font-size="34.8" text-anchor="start" fill="#161616" stroke="#161616" stroke-width="0.00" >5,9,16,20</text>
<path d="M1505.7 1627.4 C1511.4 1621.8 1526.1 1621.8 1531.8 1627.4 C1526.1 1632.1 1511.4 1632.1 1505.7 1627.4 Z" fill="#f3f3f3" stroke="#7d7d7d" stroke-width="1.5" stroke-linejoin="round"/>
<circle cx="1519.2" cy="1669.8" r="1.1" fill="#aaa"/>
<line x1="904.0" y1="1855.2" x2="910.4" y2="1855.2" stroke="#8a8a8a" stroke-width="2.2"/>
<path d="M787.3 1900.5 C798.4 1896.5 826.6 1896.5 837.7 1900.5 C826.6 1903.6 798.4 1903.6 787.3 1900.5 Z" fill="#bdbdbd" stroke="#888" stroke-width="1.3" stroke-linejoin="round"/>
<path d="M788.8 1913 C810 1910.6 850 1910.6 880 1910.3 C890 1909.2 895 1906.4 906 1906.2 C926 1906.2 941 1909 943 1912.6 C941 1917 926 1919.8 915 1920.2 L830 1919.6 C815 1917.6 800 1915 788.8 1913 Z" fill="#f4f4f4" stroke="#7d7d7d" stroke-width="1.5" stroke-linejoin="round" stroke-linecap="round"/>
<line x1="824.0" y1="1918.6" x2="919.0" y2="1919.6" stroke="#8a8a8a" stroke-width="2.6"/>
<line x1="883.5" y1="1925.1" x2="902.0" y2="1925.1" stroke="#a2a2a2" stroke-width="3"/>
<line x1="904.2" y1="1950.5" x2="913.2" y2="1950.5" stroke="#777" stroke-width="2.4"/>
<path d="M1118.1 1928.1 C1131.7 1922.2 1166.1 1922.2 1179.7 1928.1 C1166.1 1933.3 1131.7 1933.3 1118.1 1928.1 Z" fill="#eee" stroke="#7d7d7d" stroke-width="1.5" stroke-linejoin="round"/>
<g transform="rotate(-4.5 1182.3 1939.5)">
<path d="M1160.0 1939.8 C1169.8 1935.8 1194.9 1935.8 1204.7 1939.8 C1194.9 1943.0 1169.8 1943.0 1160.0 1939.8 Z" fill="#ddd" stroke="#7d7d7d" stroke-width="1.4" stroke-linejoin="round"/>
</g>
<path d="M922.0 2032.9 C928.6 2026.6 997.5 2026.6 1004.1 2032.9 C997.5 2038.4 928.6 2038.4 922.0 2032.9 Z" fill="#f1f1f1" stroke="#7d7d7d" stroke-width="1.5" stroke-linejoin="round"/>
<path d="M1424.1 1849.1 L1447.3 1846.0 L1475.1 1844.7 L1493.7 1847.8 L1524.6 1850.1 L1535.4 1851.7 L1538.8 1854.8 L1536.2 1859.4 L1509.1 1861.0 L1478.2 1860.5 L1469.7 1859.4 L1465.8 1855.6 L1444.2 1851.7 Z" fill="#f6f6f6" stroke="#7d7d7d" stroke-width="1.5" stroke-linejoin="round" stroke-linecap="round"/>
<path d="M1468 1853.5 L1478 1858 L1530 1857.5 L1534 1854.5 L1520 1852.5 L1492 1851 L1484 1853.5 Z" fill="none" stroke="#b5b5b5" stroke-width="1.2" stroke-linejoin="round" stroke-linecap="round"/>
<path d="M1638.5 1850.9 L1594.1 1852.5 L1561.7 1855.9 L1594.1 1859.9 L1638.5 1859.4" fill="#f6f6f6" stroke="#7d7d7d" stroke-width="1.5" stroke-linejoin="round" stroke-linecap="round"/>
<path d="M1383.9 1875.0 C1389.3 1870.8 1403.2 1870.8 1408.6 1875.0 C1403.2 1878.3 1389.3 1878.3 1383.9 1875.0 Z" fill="#aaa" stroke="#888" stroke-width="1.3" stroke-linejoin="round"/>
<path d="M1463.5 1949.1 C1478.0 1942.8 1514.7 1942.8 1529.2 1949.1 C1514.7 1954.7 1478.0 1954.7 1463.5 1949.1 Z" fill="#eee" stroke="#7d7d7d" stroke-width="1.5" stroke-linejoin="round"/>
<path d="M1474.0 1949.2 C1484.1 1945.3 1509.9 1945.3 1520.0 1949.2 C1509.9 1952.4 1484.1 1952.4 1474.0 1949.2 Z" fill="none" stroke="#aaa" stroke-width="1.1" stroke-linejoin="round"/>
<path d="M1639.4 1929.5 C1634 1929 1630.5 1931.5 1630 1933.5 C1632 1935.3 1636 1935.5 1639.4 1935.3" fill="#f3f3f3" stroke="#7d7d7d" stroke-width="1.5" stroke-linejoin="round" stroke-linecap="round"/>
<path d="M1552.5 2057.6 C1557.4 2053.5 1569.7 2053.5 1574.6 2057.6 C1569.7 2060.9 1557.4 2060.9 1552.5 2057.6 Z" fill="#a5a5a5" stroke="#999" stroke-width="1.0" stroke-linejoin="round"/>
<path d="M1097.1 2165.4 C1110 2160.5 1125 2159.8 1150 2159.8 C1160 2159.8 1165.4 2160.5 1165.4 2163 C1165.4 2166.5 1160 2168 1150 2168 C1130 2168.2 1110 2167.5 1097.1 2165.4 Z" fill="#f1f1f1" stroke="#7d7d7d" stroke-width="1.5" stroke-linejoin="round" stroke-linecap="round"/>
<path d="M847.3 2234.3 C860 2233 872 2231.5 885 2230.3 C910 2229 940 2229 950 2230.5 C958 2231.5 963.8 2233 963.8 2234.3 C960 2236.5 945 2238.2 920 2238.4 C900 2238.6 880 2237.5 847.3 2234.3 Z" fill="#f1f1f1" stroke="#7d7d7d" stroke-width="1.5" stroke-linejoin="round" stroke-linecap="round"/>
</svg>
</body></html>
